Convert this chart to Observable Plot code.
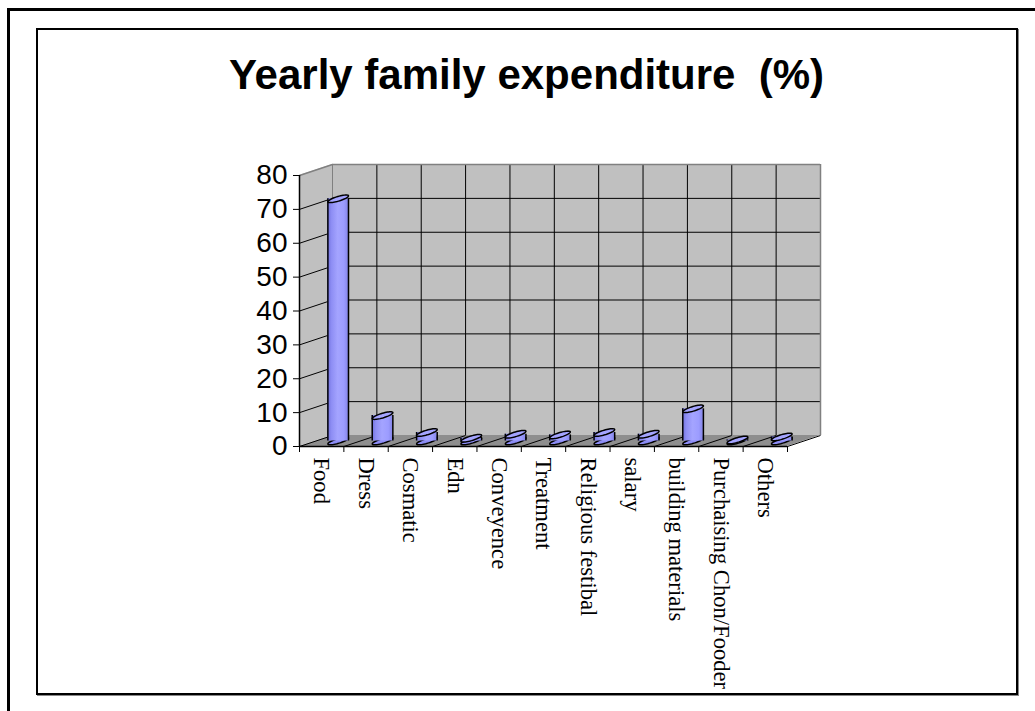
<!DOCTYPE html>
<html>
<head>
<meta charset="utf-8">
<script src="https://cdn.jsdelivr.net/npm/d3@7"></script>
<script src="https://cdn.jsdelivr.net/npm/@observablehq/plot@0.6"></script>
<style>
  html, body { margin: 0; padding: 0; background: #fff; overflow: hidden; }
  #page { position: relative; width: 1035px; height: 711px; overflow: hidden; background: #fff; }
  #outer { position: absolute; left: 7px; top: 8px; width: 1100px; height: 800px; box-sizing: border-box;
           border-left: 3px solid #000; border-top: 3px solid #000; }
  #inner { position: absolute; left: 36px; top: 28px; width: 982px; height: 667px; box-sizing: border-box;
           border: 2px solid #000; box-shadow: 1px 1px 0 #888; }
  #title { position: absolute; left: 37px; width: 979px; top: 51px; text-align: center; white-space: pre;
           font: bold 42px "Liberation Sans", Arial, sans-serif; line-height: 48px; color: #000; }
  #chart { position: absolute; left: 0; top: 110px; }
</style>
</head>
<body>
<div id="page">
  <div id="outer"></div>
  <div id="inner"></div>
  <div id="title">Yearly family expenditure  (%)</div>
  <div id="chart"></div>
</div>
<script>
// ---- data ----
const categories = ["Food", "Dress", "Cosmatic", "Edn", "Conveyence", "Treatment",
  "Religious festibal", "salary", "building materials", "Purchaising Chon/Fooder", "Others"];
const values = [71.5, 7.5, 2.5, 0.8, 2, 1.8, 2.5, 2, 9.5, 0.3, 1.2];
const yTicks = [0, 10, 20, 30, 40, 50, 60, 70, 80];

// ---- layout ----
const W = 1035, H = 601;
const mL = 299, mR = 248, mT = 65, mB = 265;
const yMax = yTicks[yTicks.length - 1];
const nCat = categories.length;
const pxX = (W - mL - mR) / nCat;          // pixels per category unit
const pxY = (H - mT - mB) / yMax;          // pixels per value unit
const DEPTH_X = 33, DEPTH_Y = 11;          // oblique depth in pixels
const dxu = DEPTH_X / pxX, dyu = DEPTH_Y / pxY;
const AX = 6.5, BX = 8, BY = -3.8;         // cylinder cap ellipse (px)
const XEXT = Math.hypot(AX, BX);
const halfW = XEXT / pxX;

const bars = categories.map((name, i) => ({
  name, value: values[i],
  cx: i + 0.5 + dxu / 2,
  base: dyu / 2,
  top: values[i] + dyu / 2
}));

const boundaries = d3.range(0, nCat + 1);
const inner = boundaries.slice(1, -1);
const centers = categories.map((_, i) => i + 0.5);

const leftWall = [{x: 0, y1: 0, y2: yMax}, {x: dxu, y1: dyu, y2: yMax + dyu}];
const floor = [
  {x: 0, y1: 0, y2: 0}, {x: dxu, y1: 0, y2: dyu},
  {x: nCat, y1: 0, y2: dyu}, {x: nCat + dxu, y1: dyu, y2: dyu}
];
const backWall = [{x1: dxu, x2: nCat + dxu, y1: dyu, y2: yMax + dyu}];

const ellipse = {
  draw(ctx) {
    const n = 48;
    for (let k = 0; k <= n; k++) {
      const t = 2 * Math.PI * k / n;
      const x = AX * Math.cos(t) + BX * Math.sin(t);
      const y = BY * Math.sin(t);
      if (k) ctx.lineTo(x, y); else ctx.moveTo(x, y);
    }
    ctx.closePath();
  }
};

const sans = "'Liberation Sans', Arial, sans-serif";
const serif = "'Liberation Serif', 'Times New Roman', serif";

const chart = Plot.plot({
  width: W, height: H,
  marginLeft: mL, marginRight: mR, marginTop: mT, marginBottom: mB,
  x: {domain: [0, nCat]},
  y: {domain: [0, yMax]},
  style: {background: "transparent", overflow: "visible"},
  marks: [
    // left wall
    Plot.area(leftWall, {x1: "x", y1: "y1", y2: "y2", fill: "#c0c0c0"}),
    // back wall
    Plot.rect(backWall, {x1: "x1", x2: "x2", y1: "y1", y2: "y2", fill: "#c0c0c0"}),
    Plot.ruleY(yTicks.slice(1, -1), {y: d => d + dyu, x1: dxu, x2: nCat + dxu, stroke: "#000", strokeWidth: 1}),
    Plot.ruleX(inner, {x: d => d + dxu, y1: dyu, y2: yMax + dyu, stroke: "#000", strokeWidth: 1}),
    // left wall gridlines
    Plot.link(yTicks.slice(1, -1), {x1: 0, y1: d => d, x2: dxu, y2: d => d + dyu, stroke: "#000", strokeWidth: 1}),
    // wall edges (gray)
    Plot.link([yMax], {x1: 0, y1: d => d, x2: dxu, y2: d => d + dyu, stroke: "#808080", strokeWidth: 1.5}),
    Plot.ruleY([yMax], {y: d => d + dyu, x1: dxu, x2: nCat + dxu, stroke: "#808080", strokeWidth: 1.5}),
    Plot.ruleX([nCat], {x: d => d + dxu, y1: dyu, y2: yMax + dyu, stroke: "#808080", strokeWidth: 1.5}),
    Plot.ruleX([0], {x: d => d + dxu, y1: dyu, y2: yMax + dyu, stroke: "#808080", strokeWidth: 1}),
    // floor
    Plot.area(floor, {x1: "x", y1: "y1", y2: "y2", fill: "#8e8e8e"}),
    Plot.link(boundaries, {x1: d => d, y1: 0, x2: d => d + dxu, y2: dyu, stroke: "#000", strokeWidth: 1}),
    // front axis lines
    Plot.ruleX([0], {y1: 0, y2: yMax, stroke: "#000", strokeWidth: 1.5}),
    Plot.ruleY([0], {x1: 0, x2: nCat, stroke: "#000", strokeWidth: 1.5}),
    // axes
    Plot.axisY({ticks: yTicks, tickSize: 6, tickPadding: 6, fontSize: 28, fontFamily: sans, label: null, stroke: "#000"}),
    Plot.axisX({ticks: boundaries, tickSize: 6, tickFormat: () => "", label: null, stroke: "#000"}),
    Plot.axisX({ticks: centers, tickSize: 0, tickPadding: 11, tickRotate: 90,
      tickFormat: d => categories[Math.round(d - 0.5)], fontSize: 22.6, fontFamily: serif, label: null}),
    // cylinders
    Plot.dot(bars, {x: "cx", y: "base", symbol: ellipse, r: 5, fill: "#8c8cf5", stroke: "#000", strokeWidth: 1.5}),
    Plot.rect(bars, {x1: d => d.cx - halfW, x2: d => d.cx + halfW, y1: "base", y2: "top", fill: "url(#cyl)"}),
    Plot.ruleX(bars, {x: d => d.cx - halfW, y1: "base", y2: "top", stroke: "#000", strokeWidth: 1.5}),
    Plot.ruleX(bars, {x: d => d.cx + halfW, y1: "base", y2: "top", stroke: "#000", strokeWidth: 1.5}),
    Plot.dot(bars, {x: "cx", y: "top", symbol: ellipse, r: 5, fill: "#a4a4ff", stroke: "#000", strokeWidth: 1.5})
  ]
});

// gradient for the cylinder bodies
const defs = d3.select(chart).insert("defs", ":first-child");
const g = defs.append("linearGradient").attr("id", "cyl").attr("x1", 0).attr("x2", 1).attr("y1", 0).attr("y2", 0);
[[0, "#7070dc"], [0.2, "#8e8ef4"], [0.5, "#a4a4ff"], [0.8, "#9c9cff"], [1, "#8585e8"]]
  .forEach(([o, c]) => g.append("stop").attr("offset", o).attr("stop-color", c));

document.getElementById("chart").appendChild(chart);
</script>
</body>
</html>
